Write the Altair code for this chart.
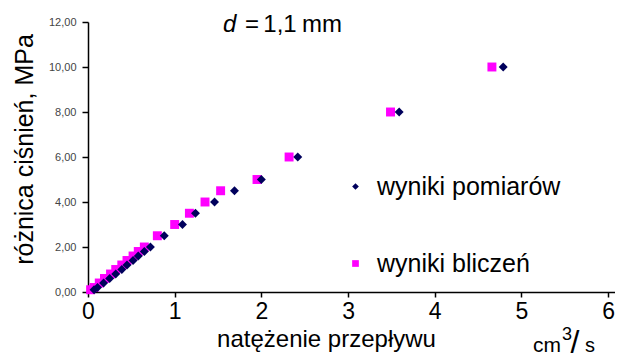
import altair as alt
import pandas as pd

# ---- data ----
pressure = [0.1, 0.2, 0.4, 0.6, 0.8, 1.0, 1.2, 1.4, 1.6, 1.8, 2.0, 2.5, 3.0, 3.5, 4.0, 4.5, 5.0, 6.0, 8.0, 10.0]
q_calc = [0.03, 0.07, 0.13, 0.19, 0.26, 0.32, 0.39, 0.45, 0.52, 0.58, 0.65, 0.80, 1.00, 1.17, 1.35, 1.53, 1.95, 2.32, 3.49, 4.66]
q_meas = [0.07, 0.11, 0.18, 0.25, 0.32, 0.39, 0.45, 0.52, 0.58, 0.65, 0.72, 0.88, 1.09, 1.24, 1.46, 1.69, 2.00, 2.42, 3.59, 4.79]

series_names = ["wyniki pomiarów", "wyniki bliczeń"]
series_colors = ["#00005C", "#FF00FF"]
series_shapes = ["diamond", "square"]

x_ticks = [0, 1, 2, 3, 4, 5, 6]
y_ticks = [0, 2, 4, 6, 8, 10, 12]

x_title = "natężenie przepływu"
y_title = "różnica ciśnień, MPa"
d_label = ["d", "=", "1,1", "mm"]
unit_label = ["cm", "3", "/", "s"]

rows = [{"q": q, "p": p, "seria": series_names[1]} for q, p in zip(q_calc, pressure)]
rows += [{"q": q, "p": p, "seria": series_names[0]} for q, p in zip(q_meas, pressure)]
df = pd.DataFrame(rows)

FONT = "Liberation Sans"

legend = alt.Legend(
    title=None, orient="none", legendX=255, legendY=152, padding=0,
    rowPadding=51, labelOffset=9, labelFont=FONT, labelFontSize=25,
    labelColor="black", labelLimit=400, symbolSize=45, symbolStrokeWidth=0,
    direction="vertical",
)

points = alt.Chart(df).mark_point(filled=True, size=80, opacity=1).encode(
    x=alt.X("q:Q", scale=alt.Scale(domain=[0, 6.08], nice=False),
            axis=alt.Axis(values=x_ticks, title=x_title, grid=False,
                          domainColor="black", domainWidth=1.5, tickColor="black",
                          tickWidth=1.5, tickSize=5, labelFont=FONT, labelFontSize=23,
                          labelColor="black", labelPadding=3, labelFlush=False,
                          titleFont=FONT, titleFontSize=24, titleFontWeight="normal",
                          titleColor="black", titleX=238, titleY=54,
                          titleAlign="center", titleBaseline="alphabetic")),
    y=alt.Y("p:Q", scale=alt.Scale(domain=[0, 12], nice=False),
            axis=alt.Axis(values=y_ticks, title=y_title, grid=False,
                          labelExpr="replace(format(datum.value, '.2f'), '.', ',')",
                          domainColor="black", domainWidth=1.5, tickColor="black",
                          tickWidth=1.5, tickSize=6, labelFont=FONT, labelFontSize=11,
                          labelColor="#444", labelPadding=6,
                          titleFont=FONT, titleFontSize=25, titleFontWeight="normal",
                          titleColor="black", titleX=-56, titleY=127, titleAngle=270,
                          titleAlign="center", titleBaseline="alphabetic")),
    color=alt.Color("seria:N", scale=alt.Scale(domain=series_names, range=series_colors), legend=legend),
    shape=alt.Shape("seria:N", scale=alt.Scale(domain=series_names, range=series_shapes), legend=legend),
)


def txt(s, x, y, size, align="left", style="normal"):
    return alt.Chart(pd.DataFrame({"t": [s]})).mark_text(
        font=FONT, fontSize=size, fontStyle=style, align=align,
        baseline="alphabetic", color="black"
    ).encode(text="t:N", x=alt.value(x), y=alt.value(y))


annotations = [
    txt(d_label[0], 135, 10, 24, "left", "italic"),
    txt(d_label[1], 164, 10, 24, "center"),
    txt(d_label[2], 192, 10, 24, "center"),
    txt(d_label[3], 234, 10, 24, "center"),
    txt(unit_label[0], 445, 330, 21, "left"),
    txt(unit_label[1], 479, 318, 18, "center"),
    txt(unit_label[2], 487, 331, 32, "center"),
    txt(unit_label[3], 497, 330, 20, "left"),
]

chart = alt.layer(points, *annotations).properties(
    width=527, height=270,
    autosize=alt.AutoSizeParams(type="none"),
    padding={"left": 80, "top": 14, "right": 0, "bottom": 61},
).configure_view(stroke=None)

chart.save("out.html", embed_options={"renderer": "svg", "actions": False})
